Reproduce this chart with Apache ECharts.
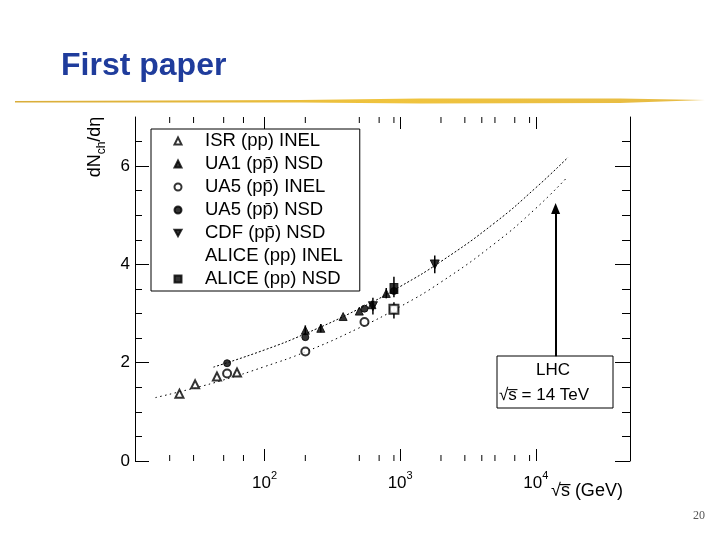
<!DOCTYPE html>
<html>
<head>
<meta charset="utf-8">
<script src="https://cdn.jsdelivr.net/npm/echarts@6/dist/echarts.min.js"></script>
<style>
  html, body { margin: 0; padding: 0; background: #fff; }
  #chart { width: 720px; height: 540px; }
</style>
</head>
<body>
<div id="chart"></div>
<script>
// sqrt(s) in GeV, dNch/deta at eta = 0
const isrInel = [[23.6, 1.37], [30.8, 1.56], [44.6, 1.72], [62.7, 1.80]];
const ua1Nsd = [[200, 2.66], [260, 2.70], [380, 2.94], [500, 3.05], [620, 3.18], [790, 3.41]];
const ua5Inel = [[53, 1.78], [200, 2.23], [546, 2.83], [900, 3.09]];
const ua5Nsd = [[53, 1.99], [200, 2.52], [546, 3.10], [900, 3.46]];
const cdfNsd = [[630, 3.15], [1800, 4.00]];
const aliceInel = [[900, 3.09]];
const aliceNsd = [[900, 3.51]];
// [sqrt(s), low, high]
const errorBars = [[200, 2.56, 2.76], [260, 2.62, 2.79], [630, 2.98, 3.32], [790, 3.31, 3.52],
  [900, 3.33, 3.75], [900, 2.90, 3.23], [1800, 3.82, 4.18]];
// dotted fit curves
const fitNsd = [[42, 1.91], [100, 2.26], [200, 2.59], [500, 3.10], [1000, 3.55], [2000, 4.06],
  [5000, 4.85], [10000, 5.56], [17300, 6.18]];
const fitInel = [[15.7, 1.29], [30, 1.48], [50, 1.65], [100, 1.92], [200, 2.22], [500, 2.71],
  [1000, 3.14], [2000, 3.64], [5000, 4.43], [10000, 5.14], [17000, 5.77]];
const lhcEnergy = 14000;
const lhcArrow = [2.13, 5.14];
const xMajorTicks = [100, 1000, 10000];
const xMinorTicks = [20, 30, 50, 70, 200, 500, 700, 900, 2000, 3000, 4000, 5000, 7000, 9000];
const yTicks = [0, 2, 4, 6];
const xRange = [11.1, 49500];
const yRange = [0, 7];

const names = ['ISR (pp) INEL', 'UA1 (pp\u0304) NSD', 'UA5 (pp\u0304) INEL', 'UA5 (pp\u0304) NSD',
  'CDF (pp\u0304) NSD', 'ALICE (pp) INEL', 'ALICE (pp) NSD'];

const chart = echarts.init(document.getElementById('chart'));

function scatter(name, data, symbol, size, extra) {
  return Object.assign({
    name: name,
    type: 'scatter',
    data: data,
    symbol: symbol,
    symbolSize: size,
    itemStyle: { color: '#000', borderColor: '#000', borderWidth: 1 },
    z: 5
  }, extra || {});
}

function fitLine(data, dash) {
  return {
    type: 'line',
    data: data,
    smooth: true,
    symbol: 'none',
    silent: true,
    lineStyle: { color: '#000', width: 1, type: dash },
    z: 2
  };
}

const legendItems = names.map(function (n, i) {
  if (i === 4) return { name: n, icon: 'path://M0,0L10,0L5,9Z' };
  if (i === 5) return { name: n, itemStyle: { opacity: 0 } };
  return n;
});

const option = {
  animation: false,
  backgroundColor: '#fff',
  textStyle: { fontFamily: 'Liberation Sans' },
  title: {
    text: 'First paper',
    left: 56,
    top: 45,
    textStyle: { fontSize: 32, fontWeight: 'bold', color: '#1f3c9c', fontFamily: 'Liberation Sans' }
  },
  legend: {
    data: legendItems,
    orient: 'vertical',
    left: 151,
    top: 129,
    padding: [2, 17, 2, 22.5],
    itemGap: 3,
    itemWidth: 7,
    itemHeight: 7,
    borderColor: '#000',
    borderWidth: 1,
    backgroundColor: '#fff',
    selectedMode: false,
    textStyle: { fontSize: 18.5, lineHeight: 20, color: '#000', padding: [0, 0, 0, 18.5] },
    z: 10
  },
  grid: { left: 135, right: 90, top: 117, bottom: 79 },
  xAxis: [{
    type: 'log',
    min: xRange[0],
    max: xRange[1],
    axisLine: { show: false, onZero: false },
    axisTick: { inside: true, length: 12, customValues: xMajorTicks, lineStyle: { color: '#000' } },
    splitLine: { show: false },
    axisLabel: {
      margin: 9,
      customValues: xMajorTicks,
      formatter: function (v) {
        return '{b|10}{p|' + Math.round(Math.log10(v)) + '}';
      },
      rich: {
        b: { fontSize: 17, color: '#000', lineHeight: 22, verticalAlign: 'bottom' },
        p: { fontSize: 11, color: '#000', lineHeight: 12, verticalAlign: 'top' }
      }
    }
  }, {
    type: 'log',
    position: 'top',
    min: xRange[0],
    max: xRange[1],
    axisLine: { show: false, onZero: false },
    axisTick: { inside: true, length: 12, customValues: xMajorTicks, lineStyle: { color: '#000' } },
    splitLine: { show: false },
    axisLabel: { show: false }
  }],
  yAxis: [{
    type: 'value',
    min: yRange[0],
    max: yRange[1],
    interval: 2,
    axisLine: { show: true, onZero: false, lineStyle: { color: '#000', width: 1 } },
    axisTick: { inside: true, length: 14, customValues: yTicks, lineStyle: { color: '#000' } },
    minorTick: { show: true, splitNumber: 4, length: 7, lineStyle: { color: '#000' } },
    splitLine: { show: false },
    axisLabel: { fontSize: 17, color: '#000', margin: 5, customValues: yTicks }
  }, {
    type: 'value',
    position: 'right',
    min: yRange[0],
    max: yRange[1],
    interval: 2,
    axisLine: { show: true, onZero: false, lineStyle: { color: '#000', width: 1 } },
    axisTick: { inside: true, length: 15, customValues: yTicks, lineStyle: { color: '#000' } },
    minorTick: { show: true, splitNumber: 4, length: 8, lineStyle: { color: '#000' } },
    splitLine: { show: false },
    axisLabel: { show: false }
  }],
  series: [
    Object.assign(fitLine(fitNsd, [2, 2]), {
      markLine: {
        silent: true,
        symbol: ['none', 'triangle'],
        symbolSize: [9, 11],
        lineStyle: { color: '#000', width: 2, type: 'solid' },
        label: { show: false },
        data: [[{ coord: [lhcEnergy, lhcArrow[0]] }, { coord: [lhcEnergy, lhcArrow[1]] }]]
      }
    }),
    fitLine(fitInel, [1.5, 3.5]),
    {
      type: 'custom',
      silent: true,
      data: xMinorTicks.map(v => [v, yRange[0]]),
      encode: { x: 0, y: 1 },
      z: 3,
      renderItem: function (params, api) {
        const b = api.coord([api.value(0), yRange[0]]);
        const t = api.coord([api.value(0), yRange[1]]);
        return {
          type: 'group',
          children: [
            { type: 'line', shape: { x1: b[0], y1: b[1], x2: b[0], y2: b[1] - 6 }, style: { stroke: '#000', lineWidth: 1 } },
            { type: 'line', shape: { x1: t[0], y1: t[1], x2: t[0], y2: t[1] + 6 }, style: { stroke: '#000', lineWidth: 1 } }
          ]
        };
      }
    },
    {
      type: 'custom',
      silent: true,
      data: errorBars,
      encode: { x: 0, y: [1, 2] },
      z: 3,
      renderItem: function (params, api) {
        const lo = api.coord([api.value(0), api.value(1)]);
        const hi = api.coord([api.value(0), api.value(2)]);
        return { type: 'line', shape: { x1: lo[0], y1: lo[1], x2: hi[0], y2: hi[1] }, style: { stroke: '#000', lineWidth: 1.5 } };
      }
    },
    scatter(names[0], isrInel, 'emptyTriangle', 8),
    scatter(names[1], ua1Nsd, 'triangle', 8),
    scatter(names[2], ua5Inel, 'emptyCircle', 8),
    scatter(names[3], ua5Nsd, 'circle', 7),
    scatter(names[4], cdfNsd, 'triangle', 9, { symbolRotate: 180 }),
    scatter(names[5], aliceInel, 'emptyRect', 9),
    scatter(names[6], aliceNsd, 'rect', [8, 10])
  ],
  graphic: [
    {
      type: 'polygon',
      silent: true,
      shape: { points: [[15, 101], [300, 100], [420, 98.5], [620, 98.5], [705, 100], [620, 103], [420, 103.5], [300, 102.5], [15, 102.5]] },
      style: {
        fill: {
          type: 'linear', x: 0, y: 0, x2: 1, y2: 0,
          colorStops: [{ offset: 0, color: '#d9ad3a' }, { offset: 0.55, color: '#f0c43e' }, { offset: 1, color: '#e6bb45' }]
        }
      }
    },
    {
      type: 'text',
      x: 97,
      y: 147,
      rotation: Math.PI / 2,
      silent: true,
      style: {
        text: '{a|dN}{s|ch}{a|/d\u03b7}',
        align: 'center',
        verticalAlign: 'middle',
        rich: {
          a: { fontSize: 18, lineHeight: 22, verticalAlign: 'top', fill: '#000', fontFamily: 'Liberation Sans' },
          s: { fontSize: 12, lineHeight: 12, verticalAlign: 'bottom', fill: '#000', fontFamily: 'Liberation Sans' }
        }
      }
    },
    {
      type: 'text',
      x: 551,
      y: 491,
      silent: true,
      style: { text: '\u221As\u0305 (GeV)', font: '18px "Liberation Sans"', fill: '#000', verticalAlign: 'middle' }
    },
    {
      type: 'group',
      silent: true,
      z: 100,
      children: [
        { type: 'rect', shape: { x: 497, y: 356, width: 116, height: 52 }, style: { fill: '#fff', stroke: '#000', lineWidth: 1 } },
        { type: 'text', x: 553, y: 370, style: { text: 'LHC', font: '17px "Liberation Sans"', fill: '#000', align: 'center', verticalAlign: 'middle' } },
        { type: 'text', x: 499, y: 395, style: { text: '\u221As\u0305 = 14 TeV', font: '17px "Liberation Sans"', fill: '#000', verticalAlign: 'middle' } }
      ]
    },
    {
      type: 'text',
      x: 699,
      y: 516,
      silent: true,
      style: { text: '20', font: '12px "Liberation Serif"', fill: '#555', align: 'center', verticalAlign: 'middle' }
    }
  ]
};

chart.setOption(option);
</script>
</body>
</html>
